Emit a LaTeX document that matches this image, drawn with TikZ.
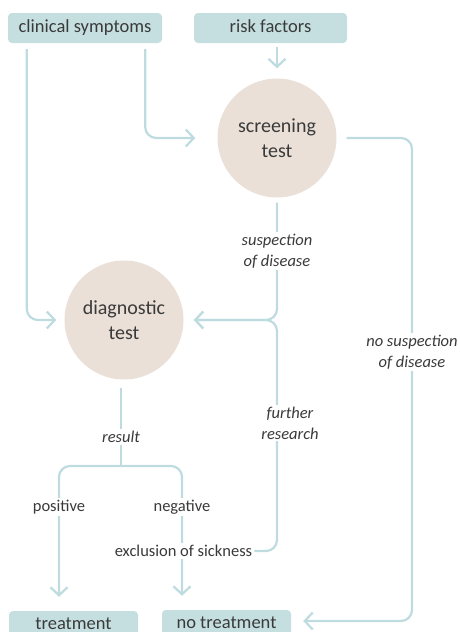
\documentclass[tikz,border=0pt]{standalone}
\usepackage{fontspec}
\setmainfont{Carlito}
\usetikzlibrary{arrows.meta, positioning, calc, backgrounds}
\definecolor{cteal}{HTML}{C5DFE1}
\definecolor{csand}{HTML}{EAE0D8}
\definecolor{cline}{HTML}{BEDCE0}
\definecolor{ctext}{HTML}{3A3A3A}
\tikzset{
  box/.style={fill=cteal, rounded corners=4pt, text=ctext, minimum width=154pt, minimum height=30pt, inner sep=0pt, text depth=4pt, font=\fontsize{18.5}{22}\selectfont},
  test/.style={circle, fill=csand, text=ctext, minimum size=119pt, inner sep=0pt, align=center, font=\fontsize{20}{25}\selectfont},
  tag/.style={fill=white, text=ctext, inner sep=2pt, align=center, font=\fontsize{16.5}{21}\selectfont},
  why/.style={tag, font=\fontsize{16.5}{21}\selectfont\itshape},
  link/.style={draw=cline, line width=2.2pt, rounded corners=11pt},
  arrow/.style={link, -{Straight Barb[length=8pt, width=17pt]}},
}

\begin{document}
\begin{tikzpicture}[x=1pt, y=-1pt]
  \useasboundingbox (0,0) rectangle (459,632);
  % where a patient comes from
  \node[box] (sym) at (85,28) {clinical symptoms};
  \node[box, minimum width=153pt] (risk) at (270.5,28) {risk factors};
  % the two tests
  \node[test] (scr) at (277,138) {screening\\test};
  \node[test] (dia) at (124,320) {diagnostic\\test};
  % outcomes, cut off by the lower edge
  \node[box, minimum width=129pt] (treat) at (73.5,626) {treatment};
  \node[box, minimum width=129pt] (notreat) at (226.5,625) {no treatment};
  % words on the paths
  \node[why] (susp) at (277,251) {suspection\\of disease};
  \node[why] (further) at (290,423) {further\\research};
  \node[why] (nosusp) at (412,352) {no suspection\\of disease};
  \node[why] (res) at (121,437) {result};
  \node[tag] (pos) at (59,507) {positive};
  \node[tag] (neg) at (182,507) {negative};
  \node[tag] (excl) at (183.5,551) {exclusion of sickness};
  \coordinate (fork) at (121,466);
  \begin{scope}[on background layer]
    \draw[arrow, shorten <=4pt, shorten >=10pt] (scr.north |- risk.south) -- (scr.north);
    \draw[arrow, shorten <=6pt] ([xshift=-17pt]sym.south east) |- ([xshift=-22pt]scr.west);
    \draw[arrow, shorten <=6pt, shorten >=8pt] ([xshift=19pt]sym.south west) |- (dia.west);
    % screening result back to diagnosis
    \draw[arrow, shorten <=5pt, shorten >=10pt] (scr.south) |- (dia.east);
    \draw[arrow, shorten >=10pt] (excl.east) -| (scr.south |- dia.east) -- (dia.east);
    \draw[arrow, shorten <=10pt, shorten >=12pt] (scr.east) -| (nosusp.center) |- ([yshift=4pt]notreat.east);
    % diagnostic result
    \draw[link, shorten <=8pt] (res |- dia.south) -- (fork);
    \draw[arrow, shorten >=14pt] (fork) -| (pos.center) -- (pos |- treat.north);
    \draw[arrow, shorten >=14pt] (fork) -| (neg.center) -- (neg |- notreat.north);
  \end{scope}
\end{tikzpicture}
\end{document}
